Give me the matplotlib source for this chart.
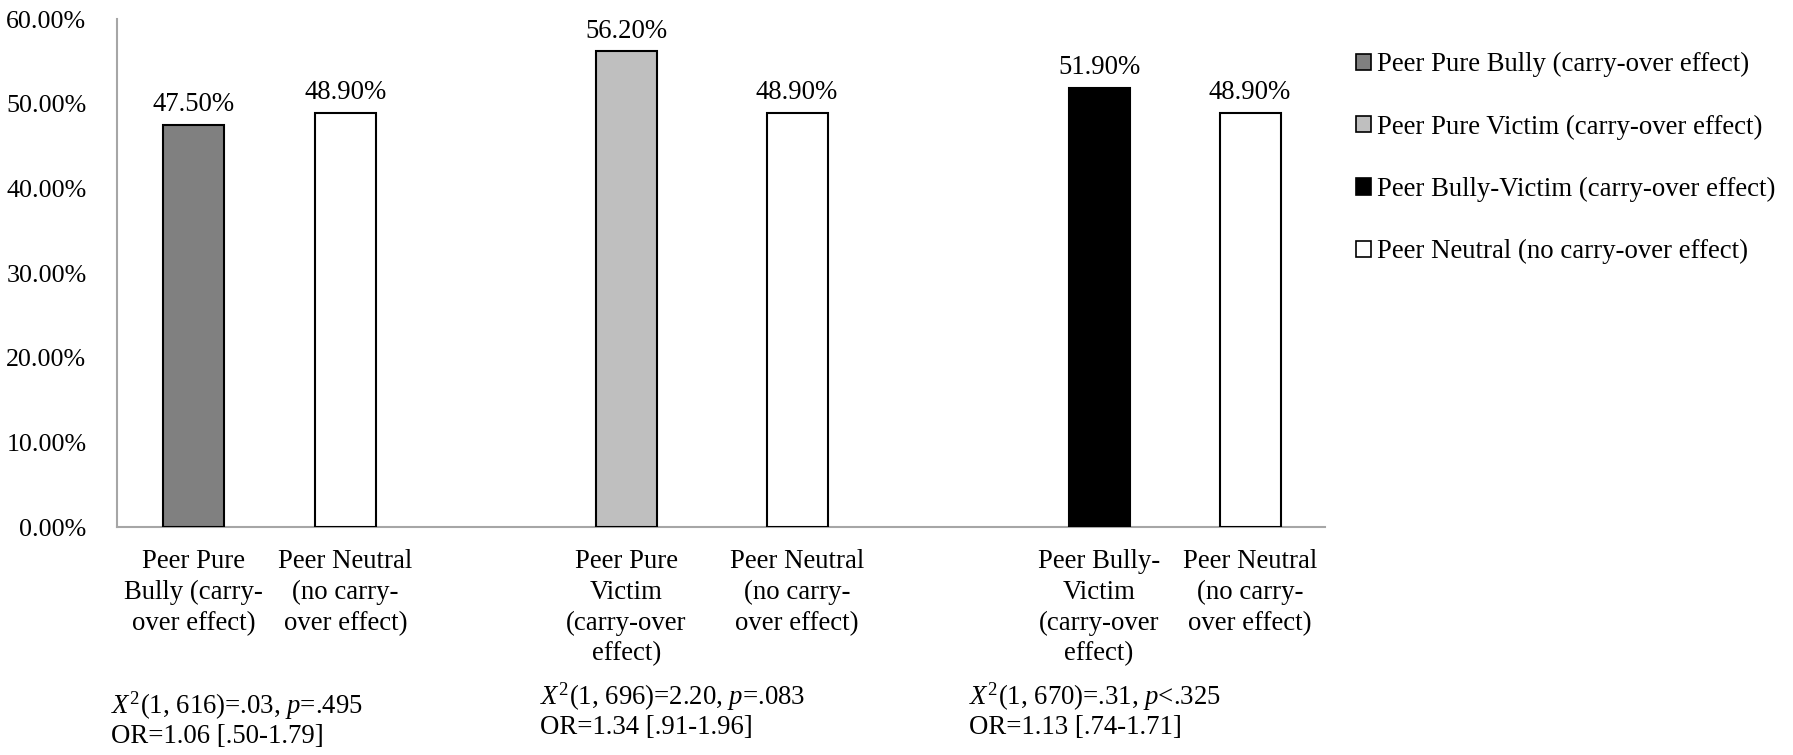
import matplotlib
matplotlib.use("Agg")
import matplotlib.pyplot as plt
from matplotlib.patches import Patch

plt.rcParams['font.family'] = ['Liberation Serif', 'DejaVu Serif']
plt.rcParams['mathtext.fontset'] = 'custom'
plt.rcParams['mathtext.rm'] = 'Liberation Serif'
plt.rcParams['mathtext.it'] = 'Liberation Serif:italic'

# data
bar_labels = ["Peer Pure\nBully (carry-\nover effect)",
              "Peer Neutral\n(no carry-\nover effect)",
              "Peer Pure\nVictim\n(carry-over\neffect)",
              "Peer Neutral\n(no carry-\nover effect)",
              "Peer Bully-\nVictim\n(carry-over\neffect)",
              "Peer Neutral\n(no carry-\nover effect)"]
values = [47.5, 48.9, 56.2, 48.9, 51.9, 48.9]
value_text = ["47.50%", "48.90%", "56.20%", "48.90%", "51.90%", "48.90%"]
yticks = [0, 10, 20, 30, 40, 50, 60]
legend_labels = ["Peer Pure Bully (carry-over effect)",
                 "Peer Pure Victim (carry-over effect)",
                 "Peer Bully-Victim (carry-over effect)",
                 "Peer Neutral (no carry-over effect)"]
stats = [r"$X^{2}$(1, 616)=.03, $p$=.495" + "\nOR=1.06 [.50-1.79]",
         r"$X^{2}$(1, 696)=2.20, $p$=.083" + "\nOR=1.34 [.91-1.96]",
         r"$X^{2}$(1, 670)=.31, $p$<.325" + "\nOR=1.13 [.74-1.71]"]

# layout / style
W, H = 1793, 755
fs = 19.3
xpos = [76.5, 228.5, 509.5, 680, 982, 1133]
colors = ['#808080', 'white', '#BFBFBF', 'white', 'black', 'white']
legend_colors = ['#808080', '#BFBFBF', 'black', 'white']

fig = plt.figure(figsize=(W / 100, H / 100), dpi=100)
ax = fig.add_axes([117 / W, 1 - 527 / H, (1325 - 117) / W, (527 - 19) / H])

ax.bar(xpos, values, width=61, color=colors, edgecolor='black', linewidth=1.5, zorder=3)
for x, v, t in zip(xpos, values, value_text):
    ax.text(x, v + 0.9, t, ha='center', va='bottom', fontsize=fs)

ax.set_xlim(0, 1208)
ax.set_ylim(0, 60)
ax.set_yticks(yticks)
ax.set_yticklabels(["%.2f%%" % t for t in yticks], fontsize=18.7)
ax.set_xticks(xpos)
ax.set_xticklabels(bar_labels, fontsize=fs, linespacing=1.3)
ax.tick_params(axis='both', length=0)
ax.tick_params(axis='y', pad=22)
ax.tick_params(axis='x', pad=16)
for s in ['top', 'right']:
    ax.spines[s].set_visible(False)
for s in ['left', 'bottom']:
    ax.spines[s].set_color('#A6A6A6')
    ax.spines[s].set_linewidth(1.5)

# stats under groups
for (x, y), t in zip([(111, 719), (540, 710), (969, 710)], stats):
    fig.text(x / W, 1 - y / H, t, ha='left', va='center', fontsize=fs, linespacing=1.1)

handles = [Patch(facecolor=c, edgecolor='black', linewidth=1.2) for c in legend_colors]
fig.legend(handles, legend_labels, loc='upper left', bbox_to_anchor=(1356 / W, 1 - 52 / H),
           frameon=False, fontsize=fs, handlelength=0.55, handleheight=0.55,
           handletextpad=0.25, labelspacing=1.39, borderpad=0, borderaxespad=0)

fig.savefig("out.png", dpi=100)
